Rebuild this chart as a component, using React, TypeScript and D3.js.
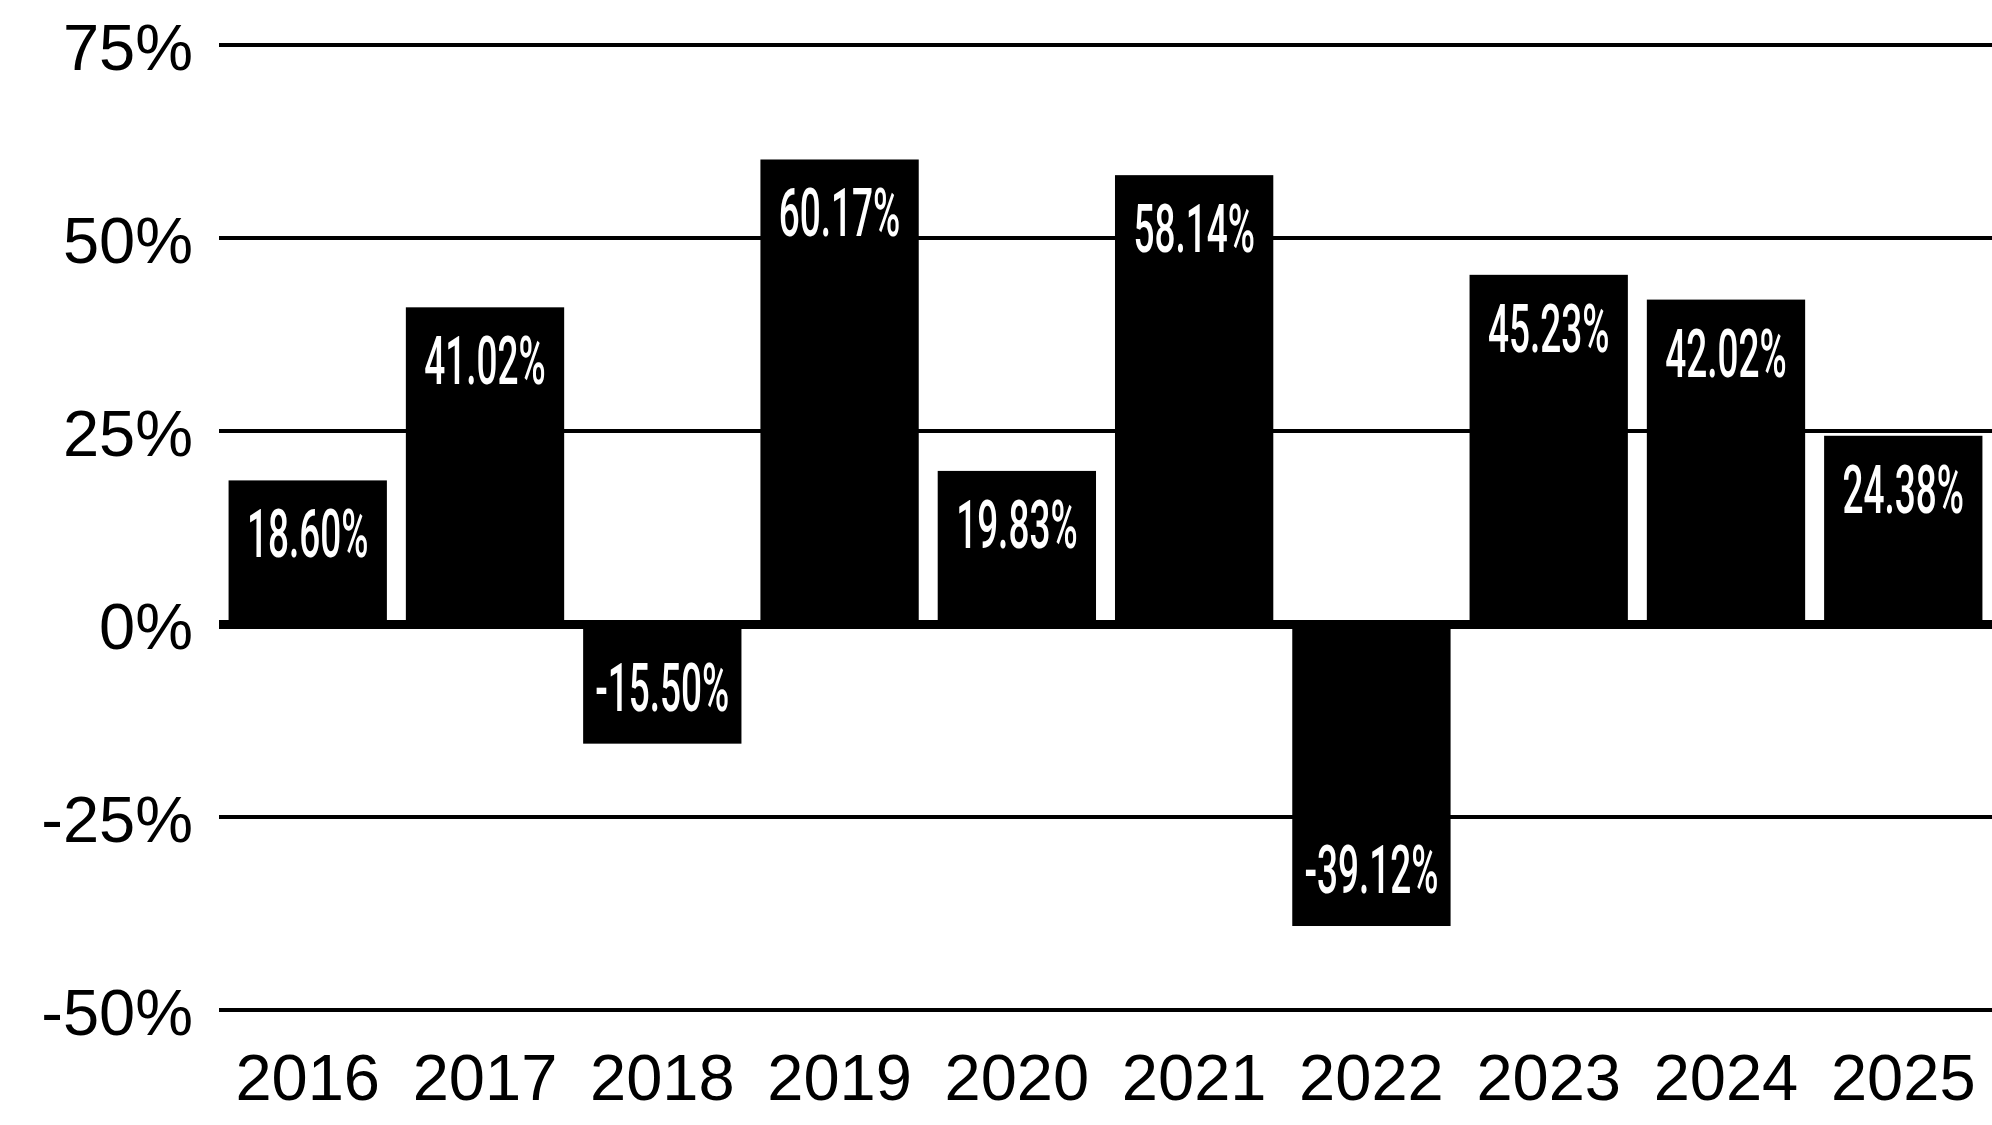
import { useEffect } from 'react';
import * as d3 from 'd3';

const years = ['2016', '2017', '2018', '2019', '2020', '2021', '2022', '2023', '2024', '2025'];
const returns = [18.6, 41.02, -15.5, 60.17, 19.83, 58.14, -39.12, 45.23, 42.02, 24.38];
const yTicks = [-50, -25, 0, 25, 50, 75];

const W = 1992;
const H = 1125;
const margin = { left: 219, right: 0, top: 45, bottom: 115 };

export default function App() {
  useEffect(() => {
    document.body.style.margin = '0';
  }, []);

  const x = d3
    .scaleBand<string>()
    .domain(years)
    .range([margin.left, W - margin.right])
    .paddingInner(0.107)
    .paddingOuter(0.054);

  const y = d3.scaleLinear().domain([-50, 75]).range([H - margin.bottom, margin.top]);

  const data = years.map((year, i) => ({ year, value: returns[i] }));
  const labelFont = 'Roboto, "Noto Sans", sans-serif';
  const axisFont = '"Liberation Sans", Arial, sans-serif';

  return (
    <svg width={W} height={H} style={{ display: 'block', background: '#fff' }}>
      {/* grid lines */}
      {yTicks
        .filter((t) => t !== 0)
        .map((t) => (
          <line key={t} x1={margin.left} x2={W} y1={y(t)} y2={y(t)} stroke="#000" strokeWidth={4} />
        ))}

      {/* y labels */}
      {yTicks.map((t) => (
        <text
          key={'l' + t}
          x={193}
          y={y(t) + 25}
          textAnchor="end"
          fontFamily={axisFont}
          fontSize={65}
          fill="#000"
        >
          {t}%
        </text>
      ))}

      {/* bars */}
      {data.map((d) => (
        <rect
          key={d.year}
          x={x(d.year)!}
          y={y(Math.max(0, d.value))}
          width={x.bandwidth()}
          height={Math.abs(y(d.value) - y(0))}
          fill="#000"
        />
      ))}

      {/* zero line */}
      <line x1={margin.left} x2={W} y1={y(0) + 0.5} y2={y(0) + 0.5} stroke="#000" strokeWidth={9} />

      {/* value labels */}
      {data.map((d) => {
        const cx = x(d.year)! + x.bandwidth() / 2;
        const by = d.value >= 0 ? y(d.value) + 77 : y(d.value) - 33;
        return (
          <text
            key={'v' + d.year}
            transform={`translate(${cx},${by}) scale(0.56,1)`}
            textAnchor="middle"
            fontFamily={labelFont}
            fontSize={66}
            fontWeight={500}
            fill="#fff"
          >
            {d.value.toFixed(2)}%
          </text>
        );
      })}

      {/* x labels */}
      {data.map((d) => (
        <text
          key={'x' + d.year}
          x={x(d.year)! + x.bandwidth() / 2}
          y={1100}
          textAnchor="middle"
          fontFamily={axisFont}
          fontSize={65}
          fill="#000"
        >
          {d.year}
        </text>
      ))}
    </svg>
  );
}
